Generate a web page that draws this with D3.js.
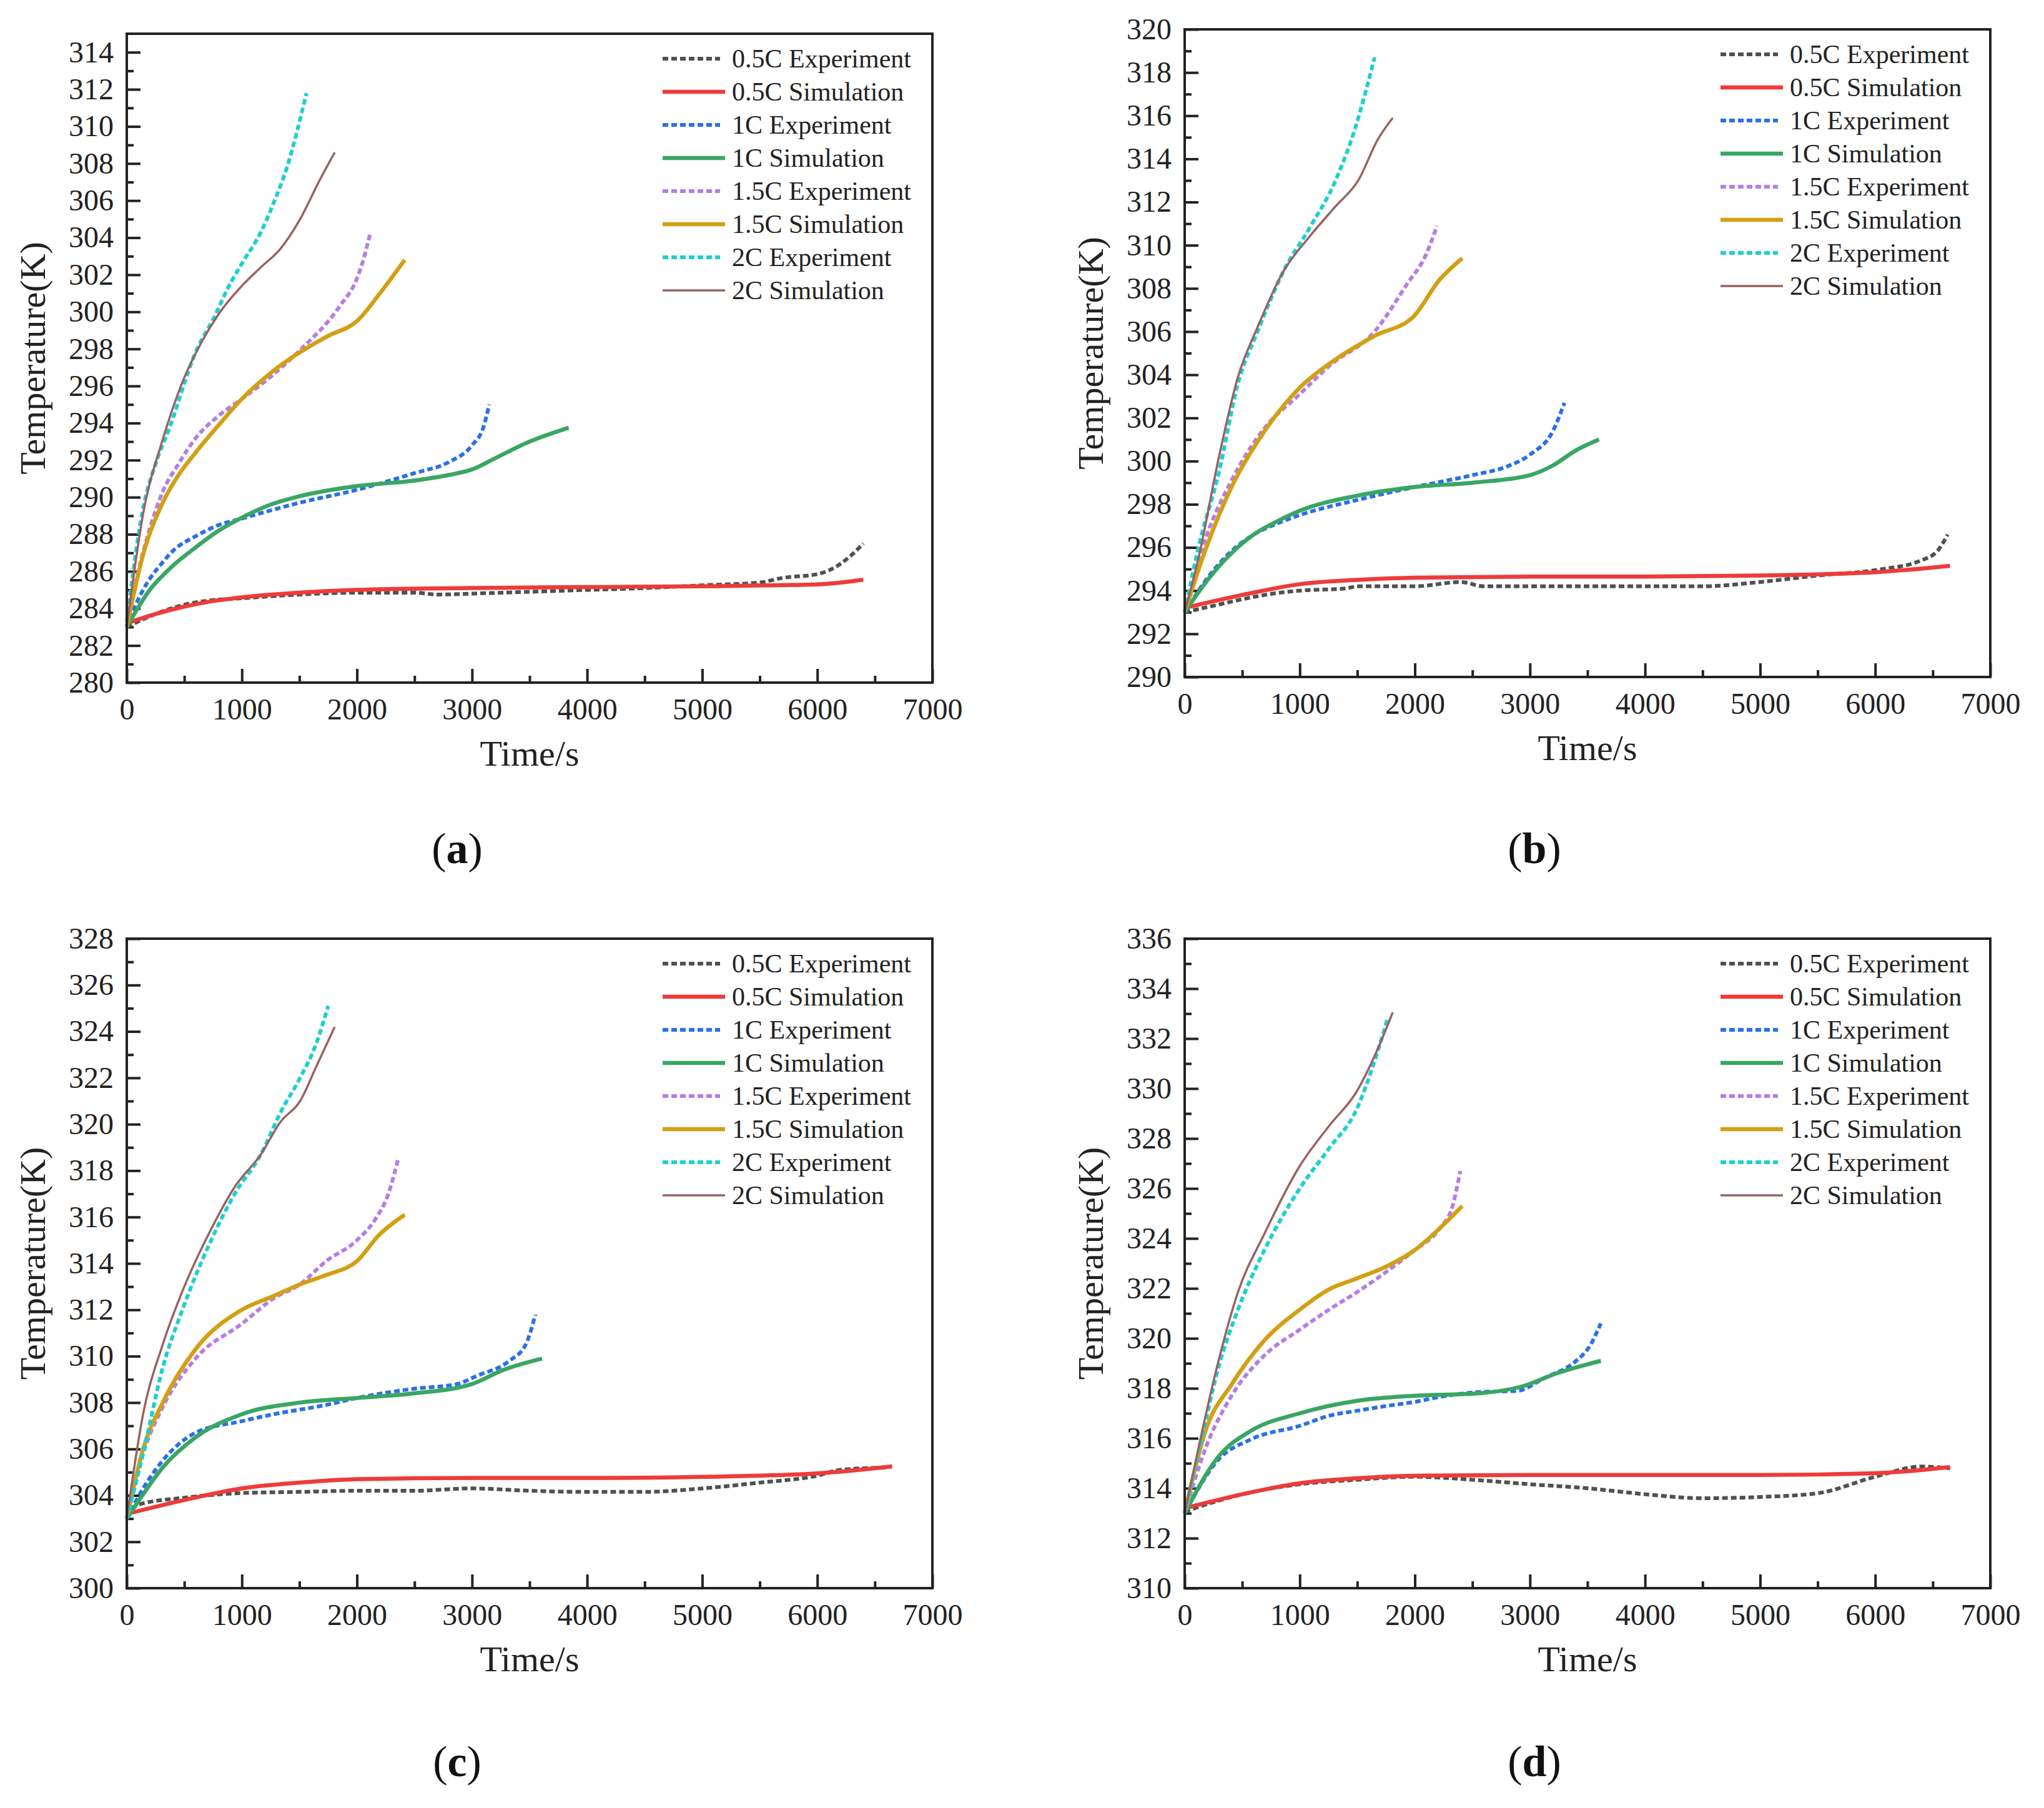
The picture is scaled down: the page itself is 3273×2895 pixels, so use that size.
<!DOCTYPE html>
<html>
<head>
<meta charset="utf-8">
<script src="https://cdn.jsdelivr.net/npm/d3@7"></script>
<style>
  body { margin: 0; background: #fff; }
  svg { display: block; }
  svg text { font-family: "Liberation Serif", "DejaVu Serif", serif; }
</style>
</head>
<body>
<svg id="chart" width="3273" height="2895"></svg>
<script>
// series names (legend order)
const seriesNames = [
  "0.5C Experiment", "0.5C Simulation", "1C Experiment", "1C Simulation",
  "1.5C Experiment", "1.5C Simulation", "2C Experiment", "2C Simulation",
];

// tick labels
const xTicks = [0, 1000, 2000, 3000, 4000, 5000, 6000, 7000];
const yTicksA = [280, 282, 284, 286, 288, 290, 292, 294, 296, 298, 300, 302, 304, 306, 308, 310, 312, 314];
const yTicksB = [290, 292, 294, 296, 298, 300, 302, 304, 306, 308, 310, 312, 314, 316, 318, 320];
const yTicksC = [300, 302, 304, 306, 308, 310, 312, 314, 316, 318, 320, 322, 324, 326, 328];
const yTicksD = [310, 312, 314, 316, 318, 320, 322, 324, 326, 328, 330, 332, 334, 336];
const panelLetters = ["a", "b", "c", "d"];

// panel (a): [time s, temperature K]
const aExp05 = [[0,283.0],[250,283.7],[500,284.2],[750,284.45],[1000,284.55],[1500,284.75],[2000,284.85],[2500,284.85],[2700,284.75],[3000,284.8],[3500,284.9],[4000,285.0],[4500,285.1],[5000,285.25],[5500,285.4],[5700,285.65],[6000,285.85],[6200,286.4],[6300,286.9],[6400,287.5]];
const aSim05 = [[0,283.2],[250,283.7],[500,284.1],[750,284.4],[1000,284.6],[1500,284.85],[2000,285.0],[3000,285.1],[4000,285.15],[5000,285.2],[6000,285.3],[6400,285.55]];
const aExp1 = [[0,283.0],[100,284.5],[200,285.6],[300,286.4],[400,287.1],[600,287.9],[800,288.5],[1000,288.85],[1500,289.7],[2000,290.4],[2500,291.3],[2800,291.9],[3000,292.8],[3100,293.8],[3150,295.0]];
const aSim1 = [[0,283.0],[200,285.0],[400,286.3],[600,287.3],[800,288.2],[1000,288.9],[1250,289.6],[1500,290.05],[2000,290.6],[2500,290.9],[2800,291.2],[3000,291.5],[3200,292.1],[3500,293.0],[3840,293.75]];
const aExp15 = [[0,283.0],[100,286.0],[200,288.3],[312,290.3],[450,291.8],[600,293.2],[800,294.4],[1000,295.3],[1250,296.5],[1500,297.9],[1850,300.3],[2000,301.8],[2060,302.9],[2114,304.2]];
const aSim15 = [[0,283.0],[142,286.9],[312,289.7],[450,291.2],[597,292.4],[800,293.9],[1000,295.3],[1250,296.7],[1500,297.8],[1750,298.7],[2000,299.5],[2200,301.0],[2415,302.8]];
const aExp2 = [[0,283.3],[142,289.4],[256,291.9],[369,293.7],[597,297.8],[767,299.8],[880,301.3],[1000,302.6],[1165,304.3],[1278,305.9],[1392,307.8],[1562,311.8]];
const aSim2 = [[0,283.0],[142,289.1],[312,293.1],[483,296.2],[653,298.4],[824,300.1],[1000,301.4],[1165,302.4],[1335,303.4],[1506,305.0],[1676,307.1],[1807,308.6]];

// panel (b)
const bExp05 = [[0,293.0],[250,293.3],[500,293.6],[750,293.85],[1000,294.0],[1400,294.1],[1500,294.2],[2000,294.2],[2400,294.4],[2600,294.2],[3000,294.2],[4000,294.2],[4500,294.2],[5000,294.4],[5500,294.7],[6000,294.95],[6400,295.4],[6550,295.9],[6630,296.6]];
const bSim05 = [[0,293.2],[500,293.8],[1000,294.3],[1500,294.5],[2000,294.6],[3000,294.65],[4000,294.65],[5000,294.7],[6000,294.85],[6650,295.15]];
const bExp1 = [[0,293.0],[200,294.6],[400,295.8],[600,296.6],[800,297.1],[1000,297.5],[1500,298.2],[2000,298.8],[2500,299.35],[2800,299.75],[3000,300.3],[3200,301.4],[3300,302.7]];
const bSim1 = [[0,293.0],[200,294.5],[400,295.7],[600,296.6],[800,297.2],[1000,297.7],[1500,298.4],[2000,298.8],[2500,299.0],[3000,299.35],[3200,299.8],[3400,300.5],[3600,301.0]];
const bExp15 = [[0,293.0],[181,296.4],[407,299.1],[689,301.5],[1000,303.1],[1254,304.4],[1650,306.0],[1932,308.2],[2100,309.6],[2192,310.9]];
const bSim15 = [[0,293.0],[181,295.9],[407,298.8],[689,301.35],[1000,303.4],[1254,304.5],[1650,305.8],[1989,306.7],[2215,308.4],[2412,309.4]];
const bExp2 = [[0,293.0],[124,296.1],[294,299.4],[463,303.6],[633,306.0],[859,308.8],[1085,310.8],[1311,313.0],[1480,315.4],[1650,318.7]];
const bSim2 = [[0,293.0],[124,295.6],[294,300.1],[463,303.9],[633,306.2],[859,308.8],[1085,310.4],[1311,311.8],[1508,313.0],[1678,314.9],[1808,315.9]];

// panel (c)
const cExp05 = [[0,303.1],[100,303.6],[500,303.9],[1000,304.1],[1500,304.15],[2000,304.2],[2500,304.2],[3000,304.3],[3500,304.2],[4000,304.15],[4500,304.15],[5000,304.3],[5500,304.55],[6000,304.85],[6200,305.1],[6600,305.2]];
const cSim05 = [[0,303.2],[500,303.8],[1000,304.3],[1500,304.55],[2000,304.7],[3000,304.75],[4000,304.75],[5000,304.8],[6000,304.95],[6650,305.25]];
const cExp1 = [[0,303.0],[142,304.3],[312,305.5],[597,306.7],[1000,307.2],[1278,307.5],[1733,307.9],[2000,308.2],[2500,308.6],[2870,308.8],[3040,309.15],[3324,309.8],[3466,310.5],[3551,311.8]];
const cSim1 = [[0,303.0],[142,304.05],[312,305.2],[597,306.5],[1000,307.5],[1506,308.0],[2000,308.2],[2500,308.4],[3000,308.8],[3267,309.4],[3608,309.9]];
const cExp15 = [[0,303.0],[142,305.8],[312,307.8],[597,309.9],[1000,311.4],[1278,312.5],[1506,313.1],[1733,314.1],[2000,315.0],[2159,315.9],[2273,317.0],[2358,318.5]];
const cSim15 = [[0,303.0],[142,306.0],[312,308.0],[597,310.3],[1000,312.0],[1278,312.6],[1506,313.1],[1733,313.5],[2000,314.1],[2187,315.2],[2415,316.1]];
const cExp2 = [[0,303.0],[142,305.8],[312,309.5],[483,312.0],[710,314.75],[938,317.0],[1165,318.7],[1335,320.5],[1506,322.0],[1648,323.5],[1750,325.1]];
const cSim2 = [[0,303.0],[142,307.5],[312,310.5],[483,312.8],[710,315.25],[938,317.3],[1165,318.7],[1335,320.1],[1506,321.0],[1648,322.5],[1807,324.2]];

// panel (d)
const dExp05 = [[0,313.07],[500,313.76],[1000,314.16],[1500,314.34],[2000,314.46],[2500,314.34],[3000,314.16],[3500,314.0],[4000,313.76],[4500,313.6],[5000,313.65],[5500,313.8],[6000,314.46],[6400,314.87],[6650,314.8]];
const dSim05 = [[0,313.2],[500,313.76],[1000,314.2],[1500,314.4],[2000,314.5],[3000,314.53],[4000,314.53],[5000,314.53],[6000,314.6],[6650,314.85]];
const dExp1 = [[0,313.0],[294,315.15],[576,315.96],[1000,316.5],[1254,316.9],[1497,317.1],[1763,317.3],[1989,317.45],[2271,317.7],[2554,317.85],[2893,317.9],[3119,318.4],[3401,319.1],[3514,319.65],[3616,320.6]];
const dSim1 = [[0,313.0],[294,315.27],[576,316.3],[1000,317.0],[1497,317.5],[1989,317.7],[2554,317.8],[2949,318.1],[3232,318.6],[3616,319.1]];
const dExp15 = [[0,313.0],[181,315.6],[407,317.7],[689,319.3],[1000,320.35],[1254,321.15],[1497,321.85],[1763,322.7],[1989,323.5],[2215,324.4],[2328,325.3],[2395,326.7]];
const dSim15 = [[0,313.0],[181,316.3],[407,318.15],[689,319.9],[1000,321.15],[1254,321.96],[1497,322.4],[1763,322.9],[1989,323.5],[2215,324.4],[2412,325.3]];
const dExp2 = [[0,313.0],[124,315.5],[294,318.85],[463,321.15],[689,323.5],[1000,326.0],[1254,327.6],[1497,329.2],[1650,331.1],[1763,332.8]];
const dSim2 = [[0,313.0],[124,315.7],[294,319.1],[463,321.85],[689,324.15],[1000,326.9],[1254,328.5],[1497,329.9],[1650,331.3],[1808,333.05]];

// line styles, same order as seriesNames
const seriesStyles = [
  { color: "#505050", width: 6, dash: "9,5" },
  { color: "#ee3b3b", width: 6.5, dash: null },
  { color: "#2a70e6", width: 6, dash: "9,5" },
  { color: "#3aa664", width: 6.5, dash: null },
  { color: "#b47ee6", width: 6, dash: "9,5" },
  { color: "#d3a014", width: 6.5, dash: null },
  { color: "#1ecfd0", width: 6, dash: "9,5" },
  { color: "#996262", width: 3.5, dash: null },
];

// panel layout (pixels)
const panels = [
  { series: [aExp05, aSim05, aExp1, aSim1, aExp15, aSim15, aExp2, aSim2], yDomain: [280, 315], yTicks: yTicksA,
    left: 203, top: 54, width: 1290, height: 1039, labelX: 732, labelY: 1382 },
  { series: [bExp05, bSim05, bExp1, bSim1, bExp15, bSim15, bExp2, bSim2], yDomain: [290, 320], yTicks: yTicksB,
    left: 1897, top: 47, width: 1290, height: 1037, labelX: 2457, labelY: 1382 },
  { series: [cExp05, cSim05, cExp1, cSim1, cExp15, cSim15, cExp2, cSim2], yDomain: [300, 328], yTicks: yTicksC,
    left: 203, top: 1503, width: 1290, height: 1040, labelX: 732, labelY: 2844 },
  { series: [dExp05, dSim05, dExp1, dSim1, dExp15, dSim15, dExp2, dSim2], yDomain: [310, 336], yTicks: yTicksD,
    left: 1897, top: 1503, width: 1290, height: 1040, labelX: 2457, labelY: 2844 },
];

const serif = "Liberation Serif";
const svg = d3.select("#chart");
svg.append("rect").attr("width", 3273).attr("height", 2895).attr("fill", "#fff");

panels.forEach((p, pi) => {
  const g = svg.append("g").attr("transform", "translate(" + p.left + "," + p.top + ")");

  const x = d3.scaleLinear().domain([0, 7000]).range([0, p.width]);
  const y = d3.scaleLinear().domain(p.yDomain).range([p.height, 0]);

  // minor ticks (odd kelvin, every 500 s)
  const yMinor = d3.range(p.yDomain[0] + 1, p.yDomain[1], 2);
  const xMinor = d3.range(500, 7000, 1000);
  g.append("g")
    .call(d3.axisLeft(y).tickValues(yMinor).tickSize(-11).tickFormat(""))
    .call((s) => s.select(".domain").remove());
  g.append("g")
    .attr("transform", "translate(0," + p.height + ")")
    .call(d3.axisBottom(x).tickValues(xMinor).tickSize(-11).tickFormat(""))
    .call((s) => s.select(".domain").remove());

  // major ticks with labels
  g.append("g")
    .attr("class", "y-axis")
    .call(d3.axisLeft(y).tickValues(p.yTicks).tickSize(-22).tickPadding(21).tickFormat(d3.format("d")))
    .call((s) => s.select(".domain").remove());
  g.append("g")
    .attr("class", "x-axis")
    .attr("transform", "translate(0," + p.height + ")")
    .call(d3.axisBottom(x).tickValues(xTicks).tickSize(-22).tickPadding(25).tickFormat(d3.format("d")))
    .call((s) => s.select(".domain").remove());

  g.selectAll("g").attr("font-family", serif);
  g.selectAll(".tick line").attr("stroke", "#222").attr("stroke-width", 4);
  g.selectAll(".tick text")
    .attr("font-family", serif)
    .attr("font-size", 48)
    .attr("fill", "#222");

  // curves
  const line = d3.line()
    .x((d) => x(d[0]))
    .y((d) => y(d[1]))
    .curve(d3.curveMonotoneX);

  p.series.forEach((data, i) => {
    const st = seriesStyles[i];
    g.append("path")
      .datum(data)
      .attr("d", line)
      .attr("fill", "none")
      .attr("stroke", st.color)
      .attr("stroke-width", st.width)
      .attr("stroke-dasharray", st.dash)
      .attr("stroke-linejoin", "round");
  });

  // frame
  g.append("rect")
    .attr("width", p.width)
    .attr("height", p.height)
    .attr("fill", "none")
    .attr("stroke", "#222")
    .attr("stroke-width", 4);

  // legend
  const legend = g.append("g").attr("transform", "translate(858,40)");
  seriesNames.forEach((name, i) => {
    const st = seriesStyles[i];
    legend.append("line")
      .attr("x1", 0)
      .attr("x2", st.dash ? 92 : 100)
      .attr("y1", i * 53)
      .attr("y2", i * 53)
      .attr("stroke", st.color)
      .attr("stroke-width", st.width)
      .attr("stroke-dasharray", st.dash);
    legend.append("text")
      .attr("x", 111)
      .attr("y", i * 53 + 14)
      .attr("font-family", serif)
      .attr("font-size", 42)
      .attr("fill", "#222")
      .text(name);
  });

  // axis titles
  g.append("text")
    .attr("transform", "translate(-131," + p.height / 2 + ") rotate(-90)")
    .attr("text-anchor", "middle")
    .attr("font-family", serif)
    .attr("font-size", 58)
    .attr("fill", "#222")
    .text("Temperature(K)");
  g.append("text")
    .attr("x", p.width / 2)
    .attr("y", p.height + 133)
    .attr("text-anchor", "middle")
    .attr("font-family", serif)
    .attr("font-size", 58)
    .attr("fill", "#222")
    .text("Time/s");

  // sub-figure label
  const lab = svg.append("text")
    .attr("x", p.labelX)
    .attr("y", p.labelY)
    .attr("text-anchor", "middle")
    .attr("font-family", serif)
    .attr("font-size", 70)
    .attr("fill", "#111");
  lab.append("tspan").text("(");
  lab.append("tspan").attr("font-weight", "bold").text(panelLetters[pi]);
  lab.append("tspan").text(")");
});
</script>
</body>
</html>
